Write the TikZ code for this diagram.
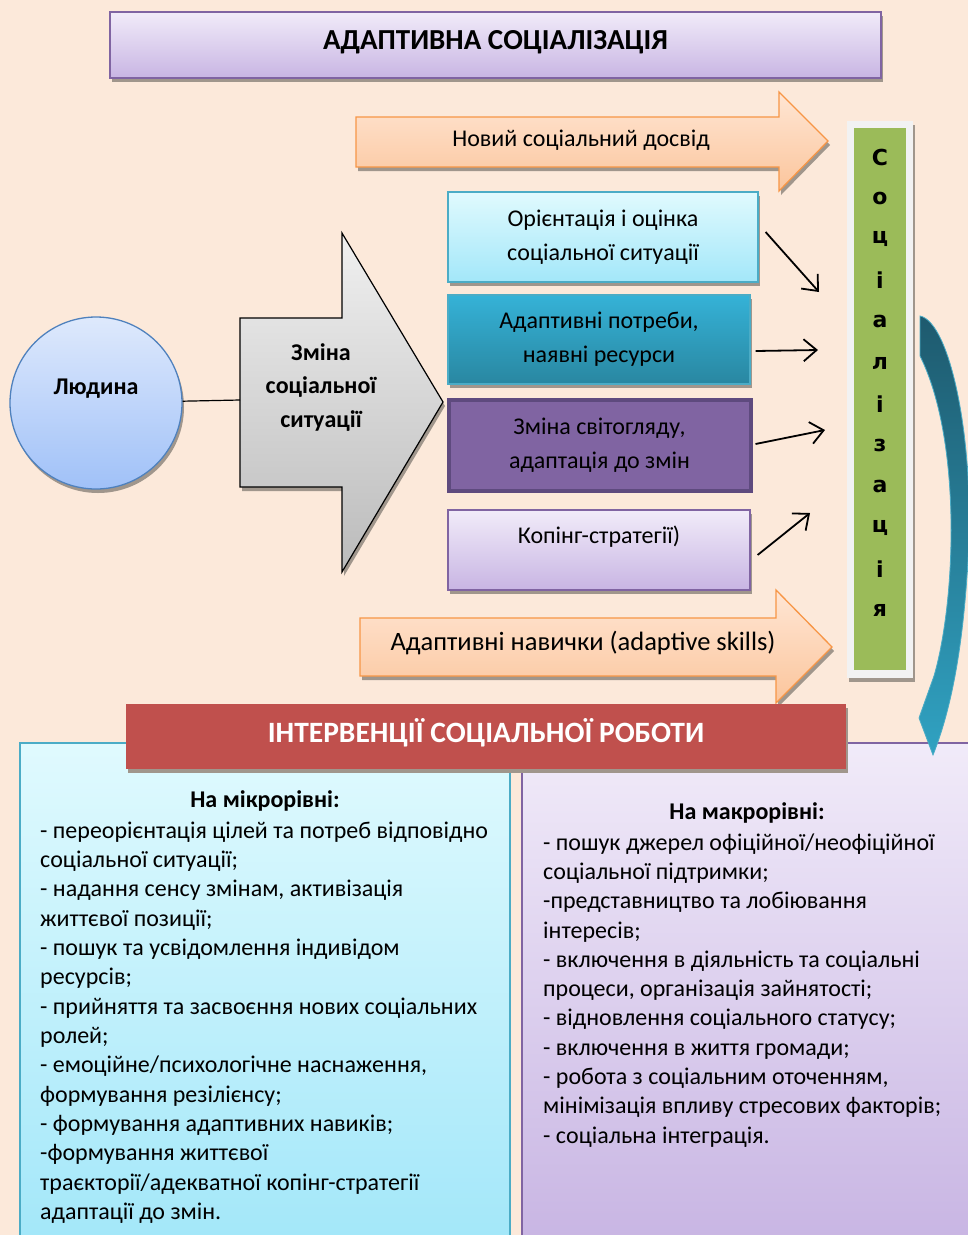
\documentclass[tikz,border=0pt]{standalone}
\usepackage{fontspec}
\setmainfont{Carlito}
\newfontfamily\dejavu{DejaVu Sans}
\usetikzlibrary{arrows.meta,shadows}
\definecolor{bg}{HTML}{FCE9DA}
\definecolor{shad}{HTML}{A0968C}
\definecolor{lavtop}{HTML}{F1EBF9}
\definecolor{lavbot}{HTML}{C8B5E3}
\definecolor{purp}{HTML}{8064A2}
\definecolor{purpdark}{HTML}{5E4A7E}
\definecolor{ortop}{HTML}{FFE6D4}
\definecolor{orbot}{HTML}{FBC59C}
\definecolor{orline}{HTML}{F79646}
\definecolor{bluetop}{HTML}{DEE9FC}
\definecolor{bluebot}{HTML}{A0C1F8}
\definecolor{blueline}{HTML}{4F81BD}
\definecolor{graytop}{HTML}{F0F0F0}
\definecolor{graybot}{HTML}{BBBBBB}
\definecolor{cyantop}{HTML}{E0FAFE}
\definecolor{cyanbot}{HTML}{A3E7F9}
\definecolor{cyanline}{HTML}{4BACC6}
\definecolor{tealtop}{HTML}{35B2D7}
\definecolor{tealbot}{HTML}{2987A1}
\definecolor{green}{HTML}{9BBB59}
\definecolor{frame}{HTML}{F2F2F2}
\definecolor{redb}{HTML}{C0504D}
\definecolor{cvtop}{HTML}{1E5A6E}
\definecolor{cvbot}{HTML}{30A2C2}
\begin{document}
\begin{tikzpicture}[x=1pt,y=-1pt,
  txt/.style={font=\fontsize{24}{34}\selectfont,align=center,text=black},
  btxt/.style={font=\bfseries\fontsize{24}{34}\selectfont,align=center,text=black},
  shd/.style={drop shadow={shadow xshift=2pt,shadow yshift=-4pt,fill=shad,opacity=1}},
  boxb/.style={rectangle,inner sep=0pt,line width=1.2pt},
  orarrow/.style={top color=ortop,bottom color=orbot,draw=orline,line width=1.3pt,shd},
  blk/.style={line width=1.8pt,-{Straight Barb[length=13pt,width=22pt,line width=1.8pt]}},
  list/.style={anchor=base west,font=\fontsize{24}{29}\selectfont,text=black,inner sep=0pt}
]
\useasboundingbox (0,0) rectangle (968,1235);
\fill[bg] (0,0) rectangle (968,1235);

% title
\node[boxb,minimum width=771pt,minimum height=66pt,top color=lavtop,bottom color=lavbot,draw=purp,line width=1.5pt,shd] (title) at (495.5,45) {};
\node[font=\bfseries\fontsize{29}{30}\selectfont] (titletxt) at (495.5,42) {АДАПТИВНА СОЦІАЛІЗАЦІЯ};

% orange arrow 1
\path[orarrow] (356,117) -- (779,117) -- (779,92) -- (828,141) -- (779,191) -- (779,167) -- (356,167) -- cycle;
\node[txt,font=\fontsize{24}{30}\selectfont] (nsd) at (581,140) {Новий соціальний досвід};

% person
\node[circle,minimum size=172pt,inner sep=0pt,top color=bluetop,bottom color=bluebot,draw=blueline,line width=1.3pt,shd] (lud) at (96,403) {};
\node[btxt] (ludtxt) at (96,389) {Людина};

% big gray arrow
\path[top color=graytop,bottom color=graybot,draw=black,line width=1.2pt,shd] (240,318) -- (342,318) -- (342,233) -- (443,402) -- (342,572) -- (342,487) -- (240,487) -- cycle;
\coordinate (zl) at (240,400);
\node[btxt,font=\bfseries\fontsize{24}{33.5}\selectfont] (zmina) at (321,387.5) {Зміна\\соціальної\\ситуації};
\draw[line width=1.2pt] (lud) -- (zl);

% boxes
\node[boxb,minimum width=310pt,minimum height=90pt,top color=cyantop,bottom color=cyanbot,draw=cyanline,shd,txt] (b1) at (603,237) {Орієнтація і оцінка\\соціальної ситуації};
\node[boxb,minimum width=302pt,minimum height=89pt,top color=tealtop,bottom color=tealbot,draw=cyanline,shd,txt] (b2) at (599,339.5) {Адаптивні потреби,\\наявні ресурси};
\node[boxb,minimum width=302pt,minimum height=91pt,fill=purp,draw=purpdark,line width=4pt,txt] (b3) at (599.5,445) {Зміна світогляду,\\адаптація до змін};
\node[boxb,minimum width=302pt,minimum height=80pt,top color=lavtop,bottom color=lavbot,draw=purp,shd] (b4) at (599,550) {};
\node[txt] (b4txt) at (599,537) {Копінг-стратегії)};

% black arrows
\coordinate (t1) at (819,292);
\coordinate (t2) at (818,350);
\coordinate (t3) at (825,430);
\coordinate (t4) at (810,513);
\draw[blk] ([shift={(7,-5)}]b1.east) -- (t1);
\draw[blk] ([shift={(5,11.5)}]b2.east) -- (t2);
\draw[blk] ([shift={(3,-1)}]b3.east) -- (t3);
\draw[blk] ([shift={(7,5)}]b4.east) -- (t4);

% orange arrow 2
\path[orarrow] (360,618) -- (776,618) -- (776,590) -- (832,647) -- (776,703) -- (776,676) -- (360,676) -- cycle;
\node[txt,font=\fontsize{26.5}{30}\selectfont] (skills) at (583,643) {Адаптивні навички (adaptive skills)};

% green bar
\node[rectangle,inner sep=0pt,minimum width=66pt,minimum height=557pt,fill=frame,draw=none,shd] (sframe) at (880,399.5) {};
\node[rectangle,inner sep=0pt,minimum width=52pt,minimum height=542pt,fill=green] (sbar) at (880,399) {};
\foreach \ch [count=\i from 0] in {С,о,ц,і,а,л,і,з,а,ц,і,я}{
  \node[font=\dejavu\bfseries\fontsize{22}{24}\selectfont] (let\i) at (880,157+41.2*\i) {\ch};
}

% bottom boxes
\node[rectangle,inner sep=0pt,minimum width=490pt,minimum height=500pt,top color=cyantop,bottom color=cyanbot,draw=cyanline,line width=1.5pt] (micro) at (265,993) {};
\node[rectangle,inner sep=0pt,minimum width=450pt,minimum height=500pt,top color=lavtop,bottom color=lavbot,draw=purp,line width=1.5pt] (macro) at (747,993) {};

% curved arrow
\path[top color=cvtop,bottom color=cvbot,draw=cyanline,line width=0.8pt]
  (920,316) .. controls (950,322) and (975,440) .. (968,560)
  .. controls (964,630) and (955,700) .. (933,755)
  -- (919,718) -- (934,676)
  .. controls (956,600) and (962,440) .. (920,356) -- cycle;

% red banner
\node[rectangle,inner sep=0pt,minimum width=720pt,minimum height=65pt,fill=redb,shd] (interv) at (486,736.5) {};
\node[font=\bfseries\fontsize{29.5}{30}\selectfont,text=white] (intervtxt) at (486,733) {ІНТЕРВЕНЦІЇ СОЦІАЛЬНОЇ РОБОТИ};

% micro text
\node[btxt,font=\bfseries\fontsize{24}{29}\selectfont] (mich) at (265,801) {На мікрорівні:};
\foreach \ln [count=\i from 0] in {%
 {- переорієнтація цілей та потреб відповідно},
 {соціальної ситуації;},
 {- надання сенсу змінам, активізація},
 {життєвої позиції;},
 {- пошук та усвідомлення індивідом},
 {ресурсів;},
 {- прийняття та засвоєння нових соціальних},
 {ролей;},
 {- емоційне/психологічне наснаження,},
 {формування резілієнсу;},
 {- формування адаптивних навиків;},
 {-формування життєвої},
 {траєкторії/адекватної копінг-стратегії},
 {адаптації до змін.}}{
  \node[list] (ml\i) at (40,838+29.36*\i) {\ln};
}

% macro text
\node[btxt,font=\bfseries\fontsize{24}{29}\selectfont] (mach) at (747,813) {На макрорівні:};
\foreach \ln [count=\i from 0] in {%
 {- пошук джерел офіційної/неофіційної},
 {соціальної підтримки;},
 {-представництво та лобіювання},
 {інтересів;},
 {- включення в діяльність та соціальні},
 {процеси, організація зайнятості;},
 {- відновлення соціального статусу;},
 {- включення в життя громади;},
 {- робота з соціальним оточенням,},
 {мінімізація впливу стресових факторів;},
 {- соціальна інтеграція.}}{
  \node[list] (rl\i) at (543,850+29.33*\i) {\ln};
}
\end{tikzpicture}
\end{document}
